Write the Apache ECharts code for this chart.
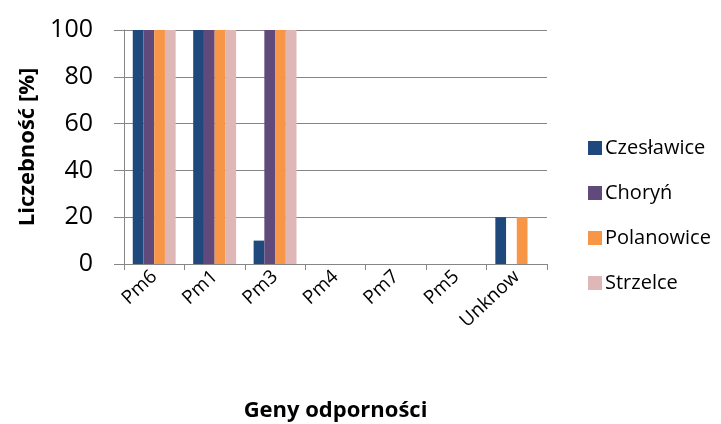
<!DOCTYPE html>
<html>
<head>
<meta charset="utf-8">
<script src="https://cdn.jsdelivr.net/npm/echarts@6/dist/echarts.min.js"></script>
<style>
  html, body { margin: 0; padding: 0; background: #fff; }
  #chart { width: 721px; height: 424px; }
</style>
</head>
<body>
<div id="chart"></div>
<script>
const categories = ['Pm6', 'Pm1', 'Pm3', 'Pm4', 'Pm7', 'Pm5', 'Unknow']
const czeslawice = [100, 100, 10, 0, 0, 0, 20]
const choryn = [100, 100, 100, 0, 0, 0, 0]
const polanowice = [100, 100, 100, 0, 0, 0, 20]
const strzelce = [100, 100, 100, 0, 0, 0, 0]
const yTicks = [0, 20, 40, 60, 80, 100]

const font = '"Open Sans", "Liberation Sans", sans-serif'
const seriesDefs = [
  { name: 'Czesławice', data: czeslawice, color: '#1f497d' },
  { name: 'Choryń', data: choryn, color: '#604a7b' },
  { name: 'Polanowice', data: polanowice, color: '#f79646' },
  { name: 'Strzelce', data: strzelce, color: '#e0b7b7' },
]

const chart = echarts.init(document.getElementById('chart'))
chart.setOption({
  backgroundColor: '#fff',
  animation: false,
  textStyle: { fontFamily: font, color: '#000' },
  grid: { left: 124, right: 174, top: 30, bottom: 160, outerBoundsMode: 'none', containLabel: false },
  legend: {
    orient: 'vertical',
    left: 588,
    top: 138,
    padding: 0,
    itemWidth: 14,
    itemHeight: 14,
    itemGap: 25,
    icon: 'rect',
    textStyle: { fontSize: 20, fontFamily: font, color: '#000', padding: [0, 0, 0, -2] },
    data: seriesDefs.map((s) => s.name),
  },
  xAxis: {
    type: 'category',
    data: categories,
    name: 'Geny odporności',
    nameLocation: 'middle',
    nameGap: 136,
    nameTextStyle: { fontSize: 22, fontWeight: 'bold', fontFamily: font, color: '#000' },
    axisLine: { lineStyle: { color: '#868686', width: 1 } },
    axisTick: { show: true, length: 6, lineStyle: { color: '#868686' } },
    axisLabel: { rotate: 43, fontSize: 19, margin: 10, color: '#000', fontFamily: font },
  },
  yAxis: {
    type: 'value',
    min: 0,
    max: 100,
    interval: 20,
    name: 'Liczebność [%]',
    nameLocation: 'middle',
    nameGap: 84,
    nameRotate: 90,
    nameTextStyle: { fontSize: 22, fontWeight: 'bold', fontFamily: font, color: '#000' },
    axisLine: { show: true, lineStyle: { color: '#868686', width: 1 } },
    axisTick: { show: true, inside: false, length: 10, lineStyle: { color: '#868686' } },
    axisLabel: {
      fontSize: 25,
      margin: 31,
      color: '#000',
      fontFamily: font,
      formatter: (v) => (yTicks.includes(v) ? String(v) : ''),
    },
    splitLine: { show: true, lineStyle: { color: '#868686', width: 1 } },
  },
  series: seriesDefs.map((s) => ({
    name: s.name,
    type: 'bar',
    data: s.data,
    barGap: '0%',
    barCategoryGap: '29%',
    itemStyle: { color: s.color },
  })),
})
</script>
</body>
</html>
